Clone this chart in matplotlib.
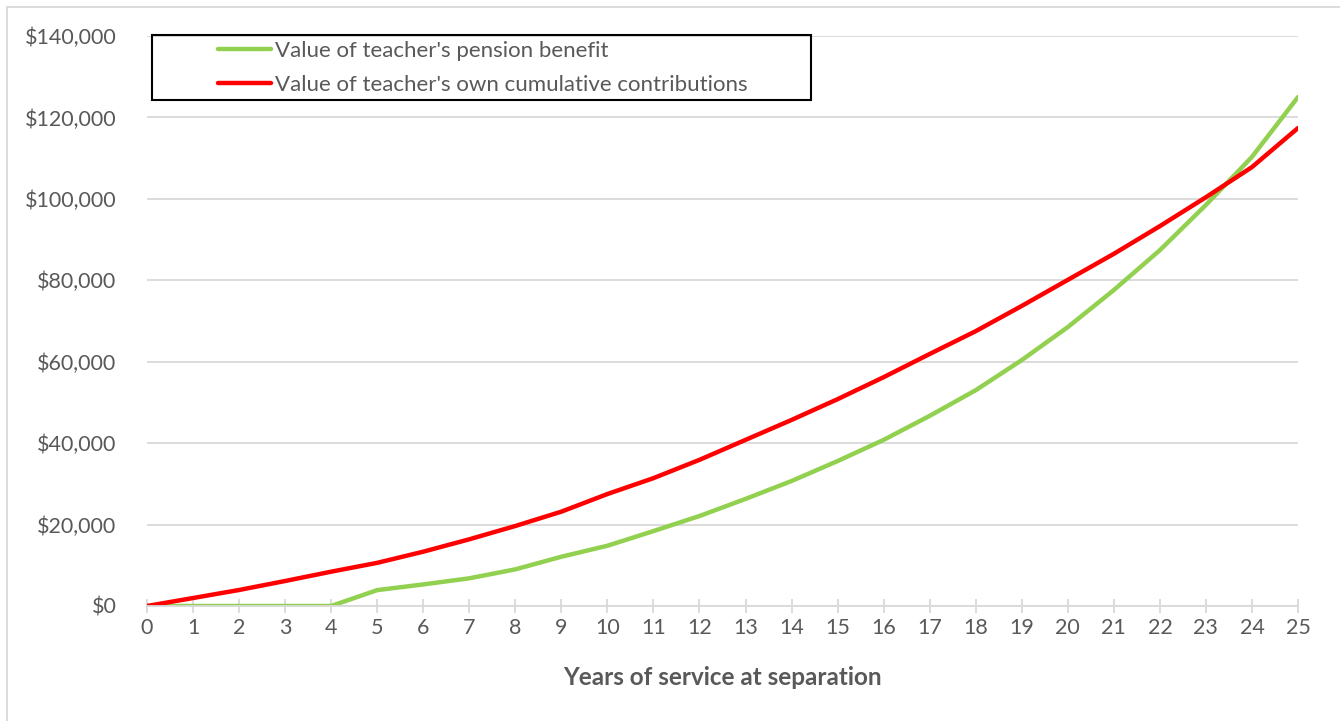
import numpy as np
import matplotlib.pyplot as plt
from matplotlib.patches import Rectangle
from matplotlib.ticker import FuncFormatter

years = list(range(26))
pension = [0, 0, 0, 0, 0, 3900, 5300, 6800, 9000, 12100, 14800,
           18400, 22100, 26300, 30700, 35600, 40800, 46700, 53000, 60400,
           68500, 77600, 87400, 98500, 110300, 125000]
contrib = [0, 1960, 3930, 6140, 8430, 10600, 13340, 16380, 19650, 23170, 27500,
           31400, 35900, 40800, 45700, 50800, 56200, 61900, 67500, 73700,
           80100, 86500, 93300, 100400, 107800, 117400]
labels = ["Value of teacher's pension benefit",
          "Value of teacher's own cumulative contributions"]

plt.rcParams['font.family'] = ['Lato', 'DejaVu Sans']
gray = '#595959'

fig = plt.figure(figsize=(13.4, 7.21), dpi=100)
ax = fig.add_axes([147/1340, 1-606/721, (1298-147)/1340, (606-36)/721])

ax.plot(years, pension, color='#92D050', lw=3.2, label=labels[0], solid_capstyle='round')
ax.plot(years, contrib, color='#FF0000', lw=3.2, label=labels[1], solid_capstyle='round')

ax.set_xlim(0, 25)
ax.set_ylim(0, 140000)
ax.set_xticks(years)
ax.set_yticks(np.arange(0, 140001, 20000))
ax.yaxis.set_major_formatter(FuncFormatter(lambda v, p: '${:,.0f}'.format(v)))
ax.grid(axis='y', color='#D9D9D9', lw=1.3)
ax.set_axisbelow(True)
for s in ['top', 'right', 'left']:
    ax.spines[s].set_visible(False)
ax.spines['bottom'].set_color('#D9D9D9')
ax.spines['bottom'].set_linewidth(1.3)
ax.tick_params(axis='x', direction='inout', length=10, width=1.3, color='#D9D9D9',
               labelcolor=gray, labelsize=15.5, pad=4)
ax.tick_params(axis='y', length=0, labelcolor=gray, labelsize=15.5, pad=22)
ax.set_xlabel('Years of service at separation', fontsize=17.5, fontweight='bold',
              color=gray, labelpad=20)

# legend box (Excel style, handles indented)
ax.add_patch(Rectangle((152/1340, 1-100/721), (811-152)/1340, 65/721,
                       transform=fig.transFigure, fill=False, ec='black', lw=1.5,
                       zorder=5, clip_on=False))
leg = ax.legend(loc='upper left', bbox_to_anchor=(202/1340, 1-25/721),
                bbox_transform=fig.transFigure, frameon=False, fontsize=16,
                handlelength=2.4, handletextpad=0.2, labelspacing=0.64,
                borderpad=0.2)
for t in leg.get_texts():
    t.set_color(gray)

# chart area border
fig.add_artist(Rectangle((7/1340, -0.05), 1.1, 1-7/721+0.05, transform=fig.transFigure,
                         fill=False, ec='#D9D9D9', lw=1.3))

fig.savefig('out.png', dpi=100)
